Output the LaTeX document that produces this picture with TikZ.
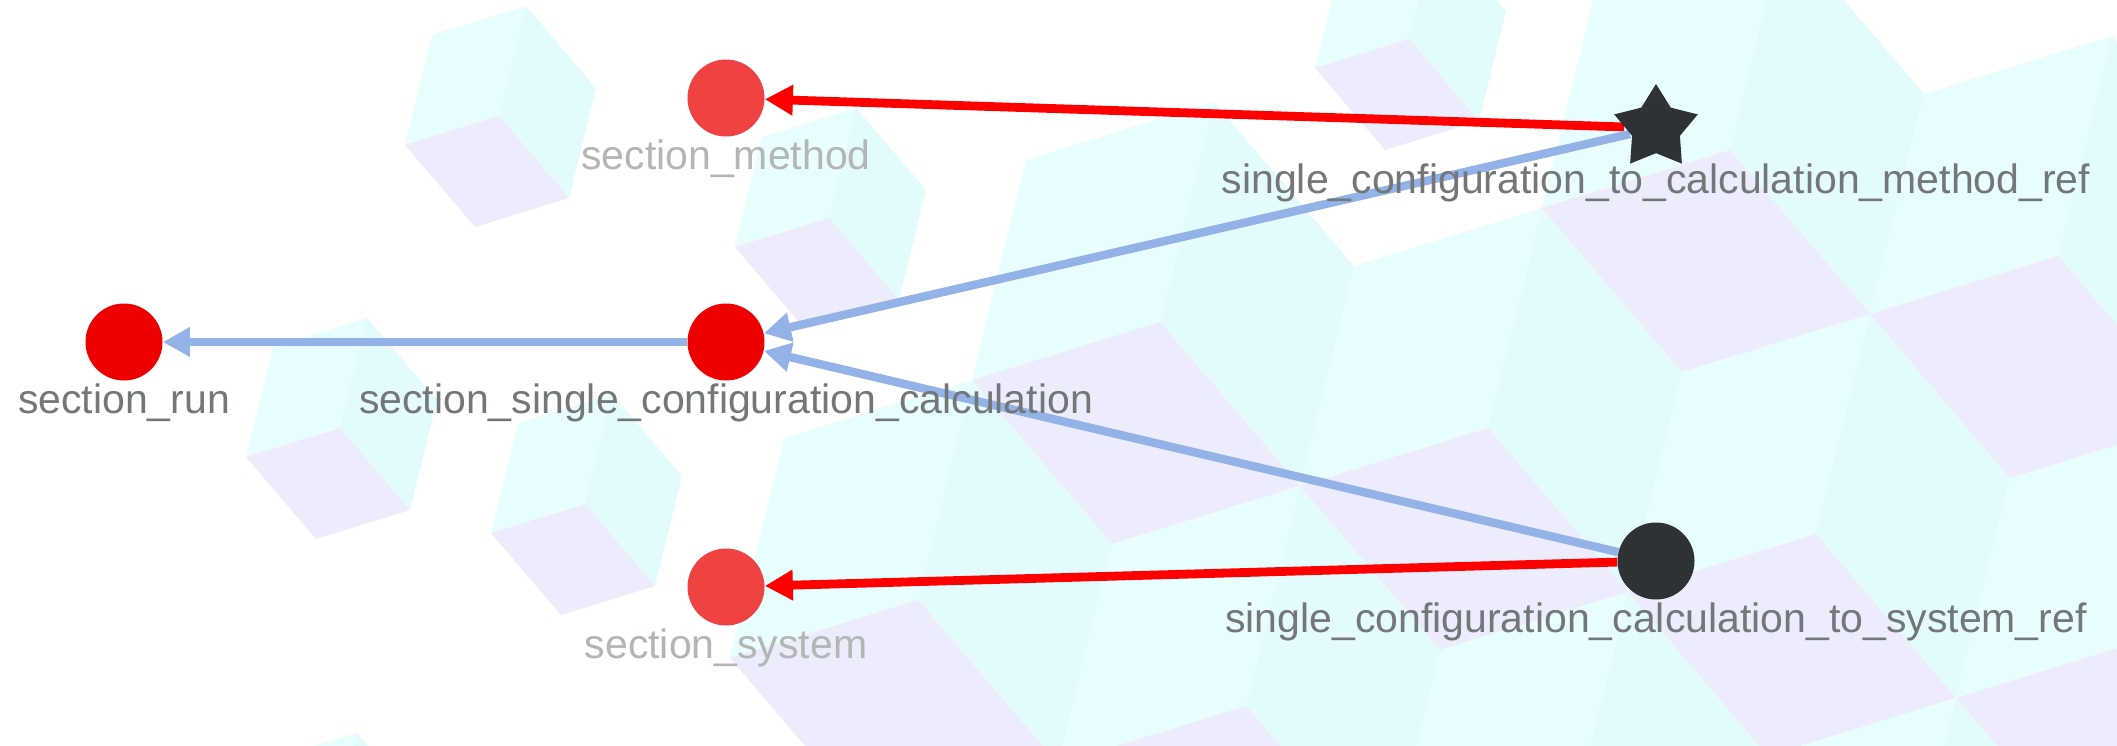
\documentclass[tikz,border=0pt]{standalone}
\usepackage{fontspec}
\setmainfont{Liberation Sans}
\usetikzlibrary{arrows.meta,shapes.geometric}
\pgfdeclarelayer{bg}
\pgfdeclarelayer{edges}
\pgfsetlayers{bg,edges,main}

\definecolor{cyanA}{RGB}{232,254,254}
\definecolor{cyanB}{RGB}{228,251,254}
\definecolor{lav}{RGB}{236,236,252}
\definecolor{edgered}{RGB}{255,0,0}
\definecolor{edgeblue}{RGB}{146,178,232}
\definecolor{nodered}{RGB}{238,0,0}
\definecolor{nodefade}{RGB}{240,66,66}
\definecolor{nodedark}{RGB}{47,50,52}
\definecolor{labeldark}{RGB}{115,119,122}
\definecolor{labelfade}{RGB}{178,182,180}

% cube with edge vectors a=(94,-29), b=(70,82), c=(-27,110) (scale 1 = small)
\newcommand\bgcube[3]{%
  \begin{scope}[shift={(#1,#2)},scale=#3]
    \fill[cyanA] (0,0) -- (94,-29) -- (67,81) -- (-27,110) -- cycle;
    \fill[cyanB] (94,-29) -- (164,53) -- (137,163) -- (67,81) -- cycle;
    \fill[lav] (-27,110) -- (67,81) -- (137,163) -- (43,192) -- cycle;
  \end{scope}}

\begin{document}
\begin{tikzpicture}[x=0.5pt,y=-0.5pt,
  dot/.style={circle,minimum size=38.5pt,inner sep=0pt,draw=none},
  starnode/.style={star,star points=5,star point ratio=1.75,minimum size=44pt,inner sep=0pt,fill=nodedark,draw=none},
  lab/.style={anchor=base,inner sep=0pt,font=\fontsize{20.5pt}{24pt}\selectfont,text=labeldark},
  redge/.style={draw=edgered,line width=4.4pt,-{Triangle[length=14pt,width=14.5pt]}},
  bedge/.style={draw=edgeblue,line width=4.2pt,-{Triangle[length=13.5pt,width=14pt]}}]
\useasboundingbox (0,0) rectangle (2117,745);
\begin{pgfonlayer}{bg}
  \begin{scope}
    \clip (0,0) rectangle (2117,745);
    \fill[white] (0,0) rectangle (2117,745);
    % small cubes
    \bgcube{432}{35}{1}
    \bgcube{762}{137}{1}
    \bgcube{273}{347}{1}
    \bgcube{518}{423}{1}
    \bgcube{1342}{-42}{1}
    \bgcube{263}{762}{1}
    % large cubes (lattice t1=(328,106), t2=(242,-278))
    \bgcube{1026}{160}{2}
    \bgcube{1354}{266}{2}
    \bgcube{1682}{372}{2}
    \bgcube{2010}{478}{2}
    \bgcube{1596}{-12}{2}
    \bgcube{1924}{94}{2}
    \bgcube{784}{438}{2}
    \bgcube{1112}{544}{2}
    \bgcube{1440}{650}{2}
    \bgcube{1768}{756}{2}
  \end{scope}
\end{pgfonlayer}

\node[dot,fill=nodefade] (method) at (726,98) {};
\node[dot,fill=nodered] (run) at (124,342) {};
\node[dot,fill=nodered] (ssc) at (726,342) {};
\node[dot,fill=nodefade] (system) at (726,587) {};
\node[starnode] (cmref) at (1656,128) {};
\node[dot,fill=nodedark] (sysref) at (1656,561) {};

\node[lab,text=labelfade] (method-l) at (726,169) {section\_method};
\node[lab] (run-l) at (124,413) {section\_run};
\node[lab] (ssc-l) at (726,413) {section\_single\_configuration\_calculation};
\node[lab,text=labelfade] (system-l) at (726,658) {section\_system};
\node[lab] (cmref-l) at (1656,193) {single\_configuration\_to\_calculation\_method\_ref};
\node[lab] (sysref-l) at (1656,632) {single\_configuration\_calculation\_to\_system\_ref};

\begin{pgfonlayer}{edges}
  \draw[redge] (cmref) -- (method);
  \draw[bedge] (cmref) -- (ssc);
  \draw[bedge] (sysref) -- (ssc);
  \draw[redge] (sysref) -- (system);
  \draw[bedge] (ssc) -- (run);
\end{pgfonlayer}
\end{tikzpicture}
\end{document}
